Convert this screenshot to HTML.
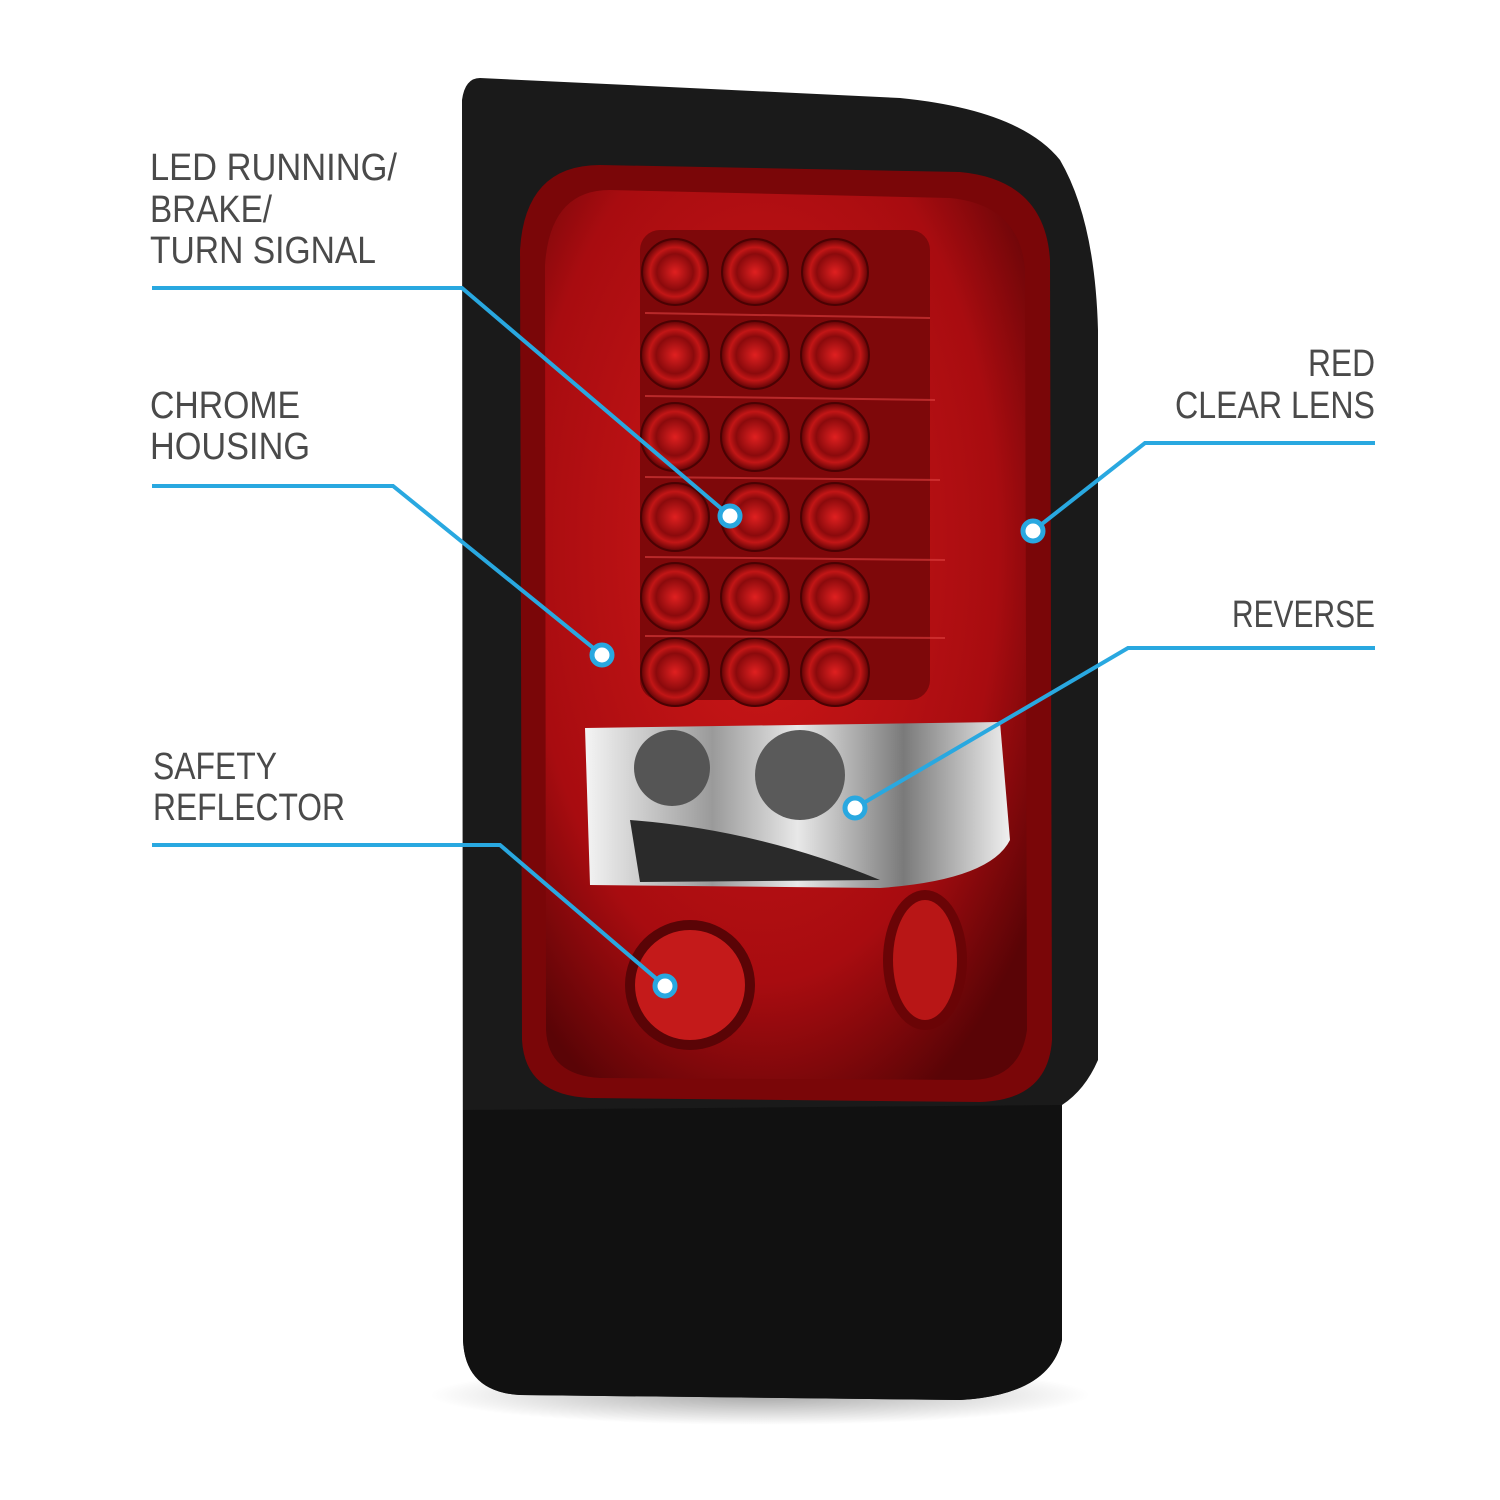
<!DOCTYPE html>
<html><head><meta charset="utf-8"><style>
html,body{margin:0;padding:0;background:#fff;}
svg{display:block;}
text{font-family:"Liberation Sans Narrow","Liberation Sans",sans-serif;font-size:38px;fill:#4a4a4a;}
</style></head><body>
<svg width="1500" height="1500" viewBox="0 0 1500 1500" xmlns="http://www.w3.org/2000/svg">
<defs>
<radialGradient id="red" cx="0.45" cy="0.4" r="0.7">
<stop offset="0" stop-color="#d01818"/><stop offset="0.7" stop-color="#a80c10"/><stop offset="1" stop-color="#5a0406"/>
</radialGradient>
<radialGradient id="led" cx="0.5" cy="0.5" r="0.5">
<stop offset="0" stop-color="#e02020"/><stop offset="0.55" stop-color="#8a0a0c"/><stop offset="0.75" stop-color="#c21616"/><stop offset="1" stop-color="#600406"/>
</radialGradient>
<linearGradient id="chrome" x1="0" y1="0" x2="1" y2="0">
<stop offset="0" stop-color="#f4f4f4"/><stop offset="0.3" stop-color="#9a9a9a"/><stop offset="0.5" stop-color="#e8e8e8"/><stop offset="0.75" stop-color="#7a7a7a"/><stop offset="1" stop-color="#f0f0f0"/>
</linearGradient>
<radialGradient id="shadow" cx="0.5" cy="0.5" r="0.5">
<stop offset="0" stop-color="#000" stop-opacity="0.35"/><stop offset="1" stop-color="#000" stop-opacity="0"/>
</radialGradient>
</defs>
<ellipse cx="760" cy="1395" rx="330" ry="30" fill="url(#shadow)"/>
<!-- housing -->
<path d="M480 78 L900 98 Q1020 110 1060 160 Q1095 220 1098 330 L1098 1060 Q1085 1090 1062 1105 L1062 1340 Q1050 1395 960 1400 L520 1395 Q465 1392 463 1340 L462 100 Q465 78 480 78 Z" fill="#1a1a1a"/>
<path d="M463 1110 L1062 1105 L1062 1340 Q1050 1395 960 1400 L520 1395 Q465 1392 463 1340 Z" fill="#111"/>
<!-- red lens -->
<path d="M600 165 L960 172 Q1045 180 1050 260 L1052 1040 Q1048 1100 980 1102 L590 1098 Q525 1095 522 1040 L520 250 Q525 165 600 165 Z" fill="#7a0608"/>
<path d="M610 190 L950 198 Q1020 205 1025 270 L1027 1030 Q1020 1080 970 1080 L600 1078 Q548 1075 546 1030 L545 265 Q550 190 610 190 Z" fill="url(#red)"/>
<rect x="640" y="230" width="290" height="470" rx="20" fill="#7e080a"/>
<g fill="url(#led)" stroke="#4a0203" stroke-width="2">
<circle cx="675" cy="272" r="33"/><circle cx="755" cy="272" r="33"/><circle cx="835" cy="272" r="33"/>
<circle cx="675" cy="355" r="34"/><circle cx="755" cy="355" r="34"/><circle cx="835" cy="355" r="34"/>
<circle cx="675" cy="437" r="34"/><circle cx="755" cy="437" r="34"/><circle cx="835" cy="437" r="34"/>
<circle cx="675" cy="517" r="34"/><circle cx="755" cy="517" r="34"/><circle cx="835" cy="517" r="34"/>
<circle cx="675" cy="597" r="34"/><circle cx="755" cy="597" r="34"/><circle cx="835" cy="597" r="34"/>
<circle cx="675" cy="672" r="34"/><circle cx="755" cy="672" r="34"/><circle cx="835" cy="672" r="34"/>
</g>
<g stroke="#e04040" stroke-width="2" opacity="0.6">
<line x1="645" y1="313" x2="930" y2="318"/><line x1="645" y1="396" x2="935" y2="400"/><line x1="645" y1="477" x2="940" y2="480"/><line x1="645" y1="557" x2="945" y2="560"/><line x1="645" y1="636" x2="945" y2="638"/>
</g>
<!-- chrome reverse -->
<path d="M585 728 L1000 722 L1010 840 Q990 880 880 888 L590 885 Z" fill="url(#chrome)"/>
<path d="M630 820 Q760 830 880 880 L640 882 Z" fill="#2a2a2a"/>
<circle cx="672" cy="768" r="38" fill="#555"/>
<circle cx="800" cy="775" r="45" fill="#5a5a5a"/>
<!-- reflectors -->
<circle cx="690" cy="985" r="65" fill="#5a0406"/>
<circle cx="690" cy="985" r="55" fill="#c41a1a"/>
<ellipse cx="925" cy="960" rx="42" ry="70" fill="#6a0406"/>
<ellipse cx="925" cy="960" rx="32" ry="60" fill="#b81616"/>
<!-- leader lines -->
<g fill="none" stroke="#29a8e0" stroke-width="4">
<polyline points="152,288 462,288 730,516"/>
<polyline points="152,486 393,486 602,655"/>
<polyline points="152,845 500,845 665,986"/>
<polyline points="1375,443 1145,443 1033,531"/>
<polyline points="1375,648 1128,648 855,808"/>
</g>
<g fill="#fff" stroke="#29a8e0" stroke-width="5">
<circle cx="730" cy="516" r="10"/><circle cx="602" cy="655" r="10"/><circle cx="665" cy="986" r="10"/><circle cx="1033" cy="531" r="10"/><circle cx="855" cy="808" r="10"/>
</g>
<!-- labels -->
<text x="150" y="180" textLength="247" lengthAdjust="spacingAndGlyphs">LED RUNNING/</text>
<text x="150" y="222" textLength="122" lengthAdjust="spacingAndGlyphs">BRAKE/</text>
<text x="150" y="263" textLength="226" lengthAdjust="spacingAndGlyphs">TURN SIGNAL</text>
<text x="150" y="418" textLength="150" lengthAdjust="spacingAndGlyphs">CHROME</text>
<text x="150" y="459" textLength="160" lengthAdjust="spacingAndGlyphs">HOUSING</text>
<text x="153" y="779" textLength="124" lengthAdjust="spacingAndGlyphs">SAFETY</text>
<text x="153" y="820" textLength="192" lengthAdjust="spacingAndGlyphs">REFLECTOR</text>
<text x="1308" y="376" textLength="67" lengthAdjust="spacingAndGlyphs">RED</text>
<text x="1175" y="418" textLength="200" lengthAdjust="spacingAndGlyphs">CLEAR LENS</text>
<text x="1232" y="627" textLength="143" lengthAdjust="spacingAndGlyphs">REVERSE</text>
</svg>
</body></html>
